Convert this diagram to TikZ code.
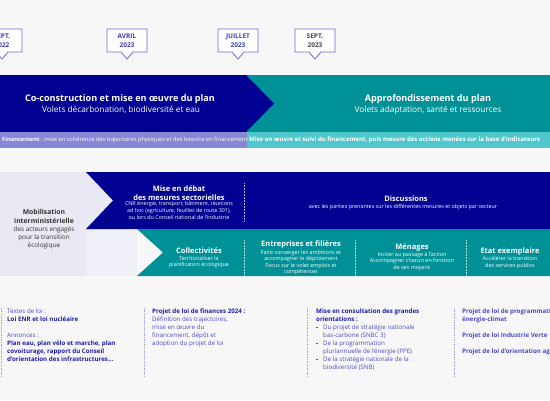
\documentclass[tikz,border=0pt]{standalone}
\usepackage{fontspec}
\setmainfont{Open Sans}
\definecolor{bg}{HTML}{F7F7F7}
\definecolor{dblue}{HTML}{000091}
\definecolor{tealc}{HTML}{009196}
\definecolor{lavc}{HTML}{8787D4}
\definecolor{ltealc}{HTML}{4FC8CC}
\definecolor{palec}{HTML}{E9E9F4}
\definecolor{pale2c}{HTML}{EFEFF7}
\definecolor{mkline}{HTML}{6B6BD6}
\definecolor{mkblue}{HTML}{3D3DB5}
\definecolor{mkgray}{HTML}{444444}
\definecolor{txtdark}{HTML}{333333}
\definecolor{bblue}{HTML}{1E1EA8}
\definecolor{rblue}{HTML}{4A4AC4}
\definecolor{dotc}{HTML}{A0A0E0}
\newcommand\mybul{\makebox[7pt][l]{\raisebox{1pt}{\rule{1.6pt}{1.6pt}}}}
\tikzset{
  markerline/.style={draw=mkline, line width=0.8pt, fill=white},
  markertext/.style={font=\fontsize{6.5}{9}\selectfont\bfseries, align=center, inner sep=0pt},
  titlet/.style={font=\fontsize{9.1}{11}\selectfont\bfseries, text=white, inner sep=0pt},
  subt/.style={font=\fontsize{8.3}{10}\selectfont, text=white, inner sep=0pt},
  fint/.style={font=\fontsize{5.7}{7}\selectfont, text=white, inner sep=0pt},
  midtitle/.style={font=\fontsize{7.5}{9.5}\selectfont\bfseries, text=white, inner sep=0pt, align=center},
  midsmall/.style={font=\fontsize{5.4}{6.6}\selectfont, text=white, inner sep=0pt, align=center},
  sepw/.style={draw=white, densely dotted, line width=0.5pt, opacity=0.7},
  sepb/.style={draw=dotc, densely dotted, line width=0.7pt},
  btext/.style={font=\fontsize{6.2}{8}\selectfont, inner sep=0pt, align=left, anchor=north west},
}
\begin{document}
\begin{tikzpicture}[x=1pt,y=-1pt]
\useasboundingbox (0,0) rectangle (550,400);
\clip (0,0) rectangle (550,400);
\fill[bg] (0,0) rectangle (550,400);

% date markers
\foreach \cx/\la/\lb/\col [count=\i] in {2/SEPT./2022/mkblue, 127/AVRIL/2023/mkblue, 238/JUILLET/2023/mkblue, 315/SEPT./2023/mkgray} {
  \draw[markerline] (\cx-20,29) -- (\cx+20,29) -- (\cx+20,52) -- (\cx+6,52) -- (\cx,59) -- (\cx-6,52) -- (\cx-20,52) -- cycle;
  \node[markertext, text=\col] (m\i) at (\cx,40.5) {\la\\\lb};
}

% top band
\fill[dblue] (0,75) rectangle (247,132);
\fill[tealc] (247,75) rectangle (550,132);
\fill[dblue] (246,75) -- (274,103.5) -- (246,132) -- cycle;
\fill[lavc] (0,132) rectangle (247,148);
\fill[ltealc] (247,132) rectangle (550,148);

\node[titlet] (t1) at (120,99) {Co-construction et mise en œuvre du plan};
\node[subt] (s1) at (121,110) {Volets décarbonation, biodiversité et eau};
\node[titlet] (t2) at (428,99) {Approfondissement du plan};
\node[subt] (s2) at (428,110) {Volets adaptation, santé et ressources};
\node[fint, anchor=west] (f1) at (2,140) {\textbf{Financement} : mise en cohérence des trajectoires physiques et des besoins en financement};
\node[fint, anchor=west, font=\fontsize{6}{7}\selectfont\bfseries] (f2) at (249,140) {Mise en œuvre et suivi du financement, puis mesure des actions menées sur la base d'indicateurs};

% middle section
\fill[palec] (0,172) rectangle (137,276);
\fill[pale2c] (86,229) rectangle (137,276);
\fill[dblue] (86,172) -- (550,172) -- (550,229) -- (86,229) -- (113,200.5) -- cycle;
\fill[tealc] (137,229) -- (550,229) -- (550,276) -- (137,276) -- (163,252.5) -- cycle;

\node[font=\fontsize{6.8}{9}\selectfont\bfseries, text=txtdark, align=center, inner sep=0pt] (mob) at (44,216.5) {Mobilisation\\interministérielle};
\node[font=\fontsize{6.4}{8}\selectfont, text=txtdark, align=center, inner sep=0pt] (mobs) at (44,238) {des acteurs engagés\\pour la transition\\écologique};

\node[midtitle] (deb) at (179,193) {Mise en débat\\des mesures sectorielles};
\node[midsmall] (debs) at (179,210.5) {CNR énergie, transport, bâtiment, réunions\\ad hoc (agriculture, feuilles de route 301),\\ou lors du Conseil national de l'industrie};
\draw[sepw] (244,183) -- (244,221);
\node[midtitle] (disc) at (406,199) {Discussions};
\node[midsmall] (discs) at (403,207) {avec les parties prenantes sur les différentes mesures et objets par secteur};

\node[midtitle] (col) at (199,251) {Collectivités};
\node[midsmall] (cols) at (199,262) {Territorialiser la\\planification écologique};
\draw[sepw] (244,240) -- (244,278);
\node[midtitle] (ent) at (301,245) {Entreprises et filières};
\node[midsmall] (ents) at (301,262.5) {Faire converger les ambitions et\\accompagner le déploiement\\Focus sur le volet emplois et\\compétences};
\draw[sepw] (355,240) -- (355,278);
\node[midtitle] (men) at (412,248) {Ménages};
\node[midsmall] (mens) at (412,261.5) {Inciter au passage à l'action\\Accompagner chacun en fonction\\de ses moyens};
\draw[sepw] (466,240) -- (466,278);
\node[midtitle] (etat) at (510,252) {Etat exemplaire};
\node[midsmall] (etats) at (510,262.5) {Accélérer la transition\\des services publics};

% bottom section
\foreach \xx in {1,144,307,454} \draw[sepb] (\xx,308) -- (\xx,377);

\node[btext] (c1) at (7,308.5) {\textcolor{rblue}{Textes de loi :}\\\textcolor{bblue}{\bfseries Loi ENR et loi nucléaire}\\[8pt]\textcolor{rblue}{Annonces :}\\\textcolor{bblue}{\bfseries Plan eau, plan vélo et marche, plan}\\\textcolor{bblue}{\bfseries covoiturage, rapport du Conseil}\\\textcolor{bblue}{\bfseries d'orientation des infrastructures...}};

\node[btext, text=rblue] (c2) at (152,308.5) {\textcolor{bblue}{\bfseries Projet de loi de finances 2024 :}\\Définition des trajectoires,\\mise en œuvre du\\financement, dépôt et\\adoption du projet de loi};

\node[btext, text=rblue] (c3) at (316,308.5) {\textcolor{bblue}{\bfseries Mise en consultation des grandes}\\\textcolor{bblue}{\bfseries orientations :}\\\mybul Du projet de stratégie nationale\\\hphantom{\mybul}bas-carbone (SNBC 3)\\\mybul De la programmation\\\hphantom{\mybul}pluriannuelle de l'énergie (PPE)\\\mybul De la stratégie nationale de la\\\hphantom{\mybul}biodiversité (SNB)};

\node[btext, text=rblue, font=\fontsize{6.2}{8}\selectfont\bfseries] (c4) at (462,308.5) {Projet de loi de programmation\\énergie-climat\\[8pt]Projet de loi Industrie Verte\\[8pt]Projet de loi d'orientation agricole};
\end{tikzpicture}
\end{document}
